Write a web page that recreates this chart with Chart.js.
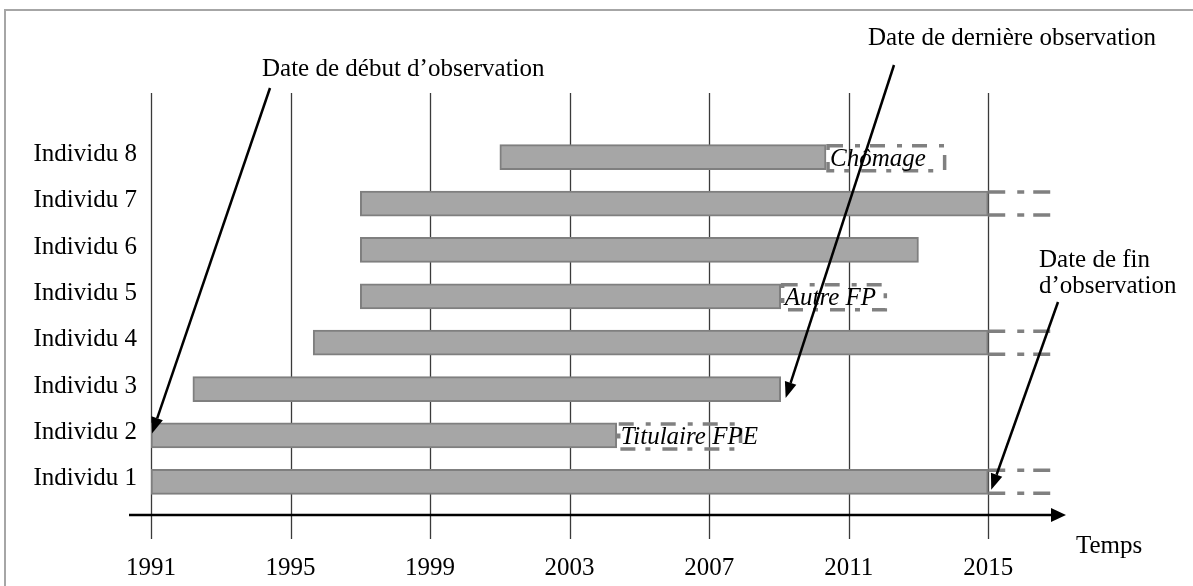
<!DOCTYPE html>
<html>
<head>
<meta charset="utf-8">
<script src="https://cdn.jsdelivr.net/npm/chart.js@4.4.1/dist/chart.umd.min.js"></script>
<style>
  html, body { margin: 0; padding: 0; background: #fff; }
  canvas { display: block; }
</style>
</head>
<body>
<canvas id="timeline" width="1193" height="586"></canvas>
<script>
// Individuals, bottom row first
const INDIVIDUS = ['Individu 1', 'Individu 2', 'Individu 3', 'Individu 4',
                   'Individu 5', 'Individu 6', 'Individu 7', 'Individu 8'];
// observed spell: start and end year
const DEBUT = [1991, 1991, 1992.2, 1995.65, 1997, 1997, 1997, 2001];
const FIN   = [2015, 2004.35, 2009.05, 2015, 2009.05, 2013, 2015, 2010.35];
// what follows the end of the spell (null = nothing drawn)
const SUITE_FIN   = [2016.8, 2007.9, null, 2016.8, 2012.05, null, 2016.8, 2013.75];
const SUITE_LABEL = [null, 'Titulaire FPE', null, null, 'Autre FP', null, null, 'Chômage'];
const TICK_YEARS  = [1991, 1995, 1999, 2003, 2007, 2011, 2015];

const SERIF = 'Liberation Serif';

function arrow(ctx, x1, y1, x2, y2) {
    const ang = Math.atan2(y2 - y1, x2 - x1);
    const len = 16, half = 6;
    const bx = x2 - len * Math.cos(ang), by = y2 - len * Math.sin(ang);
    ctx.beginPath();
    ctx.moveTo(x1, y1);
    ctx.lineTo(bx, by);
    ctx.stroke();
    ctx.beginPath();
    ctx.moveTo(x2, y2);
    ctx.lineTo(bx + half * Math.sin(ang), by - half * Math.cos(ang));
    ctx.lineTo(bx - half * Math.sin(ang), by + half * Math.cos(ang));
    ctx.closePath();
    ctx.fill();
}

// vertical grid lines, running through the time axis
const gridPlugin = {
    id: 'gridLines',
    beforeDatasetsDraw(chart) {
        const { ctx, scales: { x }, chartArea } = chart;
        ctx.save();
        ctx.strokeStyle = '#3a3a3a';
        ctx.lineWidth = 1.3;
        TICK_YEARS.forEach(v => {
            const px = Math.round(x.getPixelForValue(v)) + 0.5;
            ctx.beginPath();
            ctx.moveTo(px, chartArea.top - 41);
            ctx.lineTo(px, chartArea.bottom + 34);
            ctx.stroke();
        });
        ctx.restore();
    }
};

// dashed continuation after each spell + annotations
const suitePlugin = {
    id: 'suites',
    afterDatasetsDraw(chart) {
        const { ctx, scales: { x, y }, chartArea } = chart;
        const meta = chart.getDatasetMeta(1);
        ctx.save();
        ctx.strokeStyle = '#808080';
        ctx.lineWidth = 3.5;
        meta.data.forEach((el, i) => {
            if (SUITE_FIN[i] == null) return;
            const p = el.getProps(['x', 'base', 'y', 'height'], true);
            const left = Math.min(p.x, p.base), right = Math.max(p.x, p.base);
            const top = p.y - p.height / 2, bottom = p.y + p.height / 2;
            if (SUITE_LABEL[i]) {
                ctx.setLineDash([15, 12, 5, 10]);
                ctx.strokeRect(left + 2, top + 1, right - left - 2, bottom - top);
                ctx.setLineDash([]);
                ctx.fillStyle = '#000';
                ctx.font = 'italic 25px "' + SERIF + '"';
                ctx.textBaseline = 'alphabetic';
                ctx.textAlign = 'left';
                ctx.fillText(SUITE_LABEL[i], left + 4, p.y + 9);
            } else {
                ctx.setLineDash([17, 12, 7, 9]);
                [top + 1, bottom - 1].forEach(ly => {
                    ctx.beginPath();
                    ctx.moveTo(left, ly);
                    ctx.lineTo(right, ly);
                    ctx.stroke();
                });
            }
        });
        ctx.setLineDash([]);

        // time axis with arrow
        const axisY = chartArea.bottom + 10;
        ctx.strokeStyle = '#000';
        ctx.fillStyle = '#000';
        ctx.lineWidth = 2.5;
        ctx.beginPath();
        ctx.moveTo(129, axisY);
        ctx.lineTo(1052, axisY);
        ctx.stroke();
        ctx.beginPath();
        ctx.moveTo(1066, axisY);
        ctx.lineTo(1051, axisY - 7);
        ctx.lineTo(1051, axisY + 7);
        ctx.closePath();
        ctx.fill();

        // texts
        ctx.font = '25px "' + SERIF + '"';
        ctx.textAlign = 'left';
        ctx.textBaseline = 'alphabetic';
        ctx.fillText('Date de début d\u2019observation', 262, 76);
        ctx.fillText('Date de dernière observation', 868, 45);
        ctx.fillText('Date de fin', 1039, 267);
        ctx.fillText('d\u2019observation', 1039, 293);
        ctx.fillText('Temps', 1076, 553);

        // pointers
        ctx.lineWidth = 2.5;
        arrow(ctx, 270, 88, x.getPixelForValue(DEBUT[1]) + 1, y.getPixelForValue(1) - 2);
        arrow(ctx, 894, 65, x.getPixelForValue(FIN[2]) + 5, y.getPixelForValue(2) + 9);
        arrow(ctx, 1058, 302, x.getPixelForValue(FIN[0]) + 3, y.getPixelForValue(0) + 8);

        // frame
        ctx.strokeStyle = '#a6a6a6';
        ctx.lineWidth = 2;
        ctx.beginPath();
        ctx.moveTo(5, 586);
        ctx.lineTo(5, 10);
        ctx.lineTo(1193, 10);
        ctx.stroke();
        ctx.restore();
    }
};

new Chart(document.getElementById('timeline'), {
    type: 'bar',
    data: {
        labels: INDIVIDUS,
        datasets: [{
            data: DEBUT.map((d, i) => [d, FIN[i]]),
            backgroundColor: '#a6a6a6',
            borderColor: '#7f7f7f',
            borderWidth: 2,
            borderSkipped: false,
            barThickness: 25,
            grouped: false
        }, {
            data: FIN.map((f, i) => SUITE_FIN[i] == null ? null : [f, SUITE_FIN[i]]),
            backgroundColor: 'rgba(0,0,0,0)',
            borderWidth: 0,
            barThickness: 25,
            grouped: false
        }]
    },
    options: {
        indexAxis: 'y',
        responsive: false,
        animation: false,
        layout: { padding: { top: 134, right: 135, left: 0, bottom: 0 } },
        plugins: {
            legend: { display: false },
            tooltip: { enabled: false }
        },
        scales: {
            x: {
                type: 'linear',
                min: 1991,
                max: 2017,
                grid: { display: false, drawTicks: false },
                border: { display: false },
                afterBuildTicks: s => { s.ticks = TICK_YEARS.map(v => ({ value: v })); },
                afterFit: s => { s.height = 81; },
                ticks: {
                    color: '#000',
                    font: { family: SERIF, size: 25 },
                    padding: 48,
                    maxRotation: 0,
                    autoSkip: false,
                    callback: v => String(v)
                }
            },
            y: {
                reverse: true,
                grid: { display: false, drawTicks: false },
                border: { display: false },
                afterFit: s => { s.width = 151; },
                ticks: {
                    color: '#000',
                    font: { family: SERIF, size: 25 },
                    padding: 14,
                    labelOffset: -3
                }
            }
        }
    },
    plugins: [gridPlugin, suitePlugin]
});
</script>
</body>
</html>
